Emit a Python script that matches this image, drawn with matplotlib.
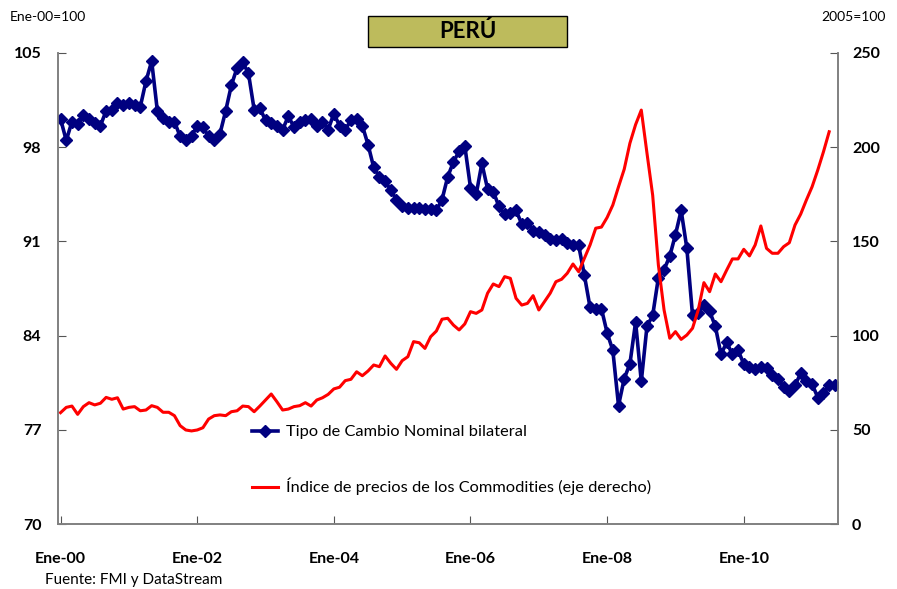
import numpy as np
import matplotlib.pyplot as plt
from matplotlib.patches import Rectangle

plt.rcParams['font.family'] = ['Lato', 'DejaVu Sans']

# tipo de cambio nominal bilateral (Ene-00=100), mensual desde Ene-00
tipo_cambio = [100.1, 98.5, 99.9, 99.7, 100.4, 100.1, 99.8, 99.6, 100.7, 100.8,
               101.3, 101.1, 101.3, 101.1, 101.0, 102.9, 104.4, 100.7, 100.2, 99.9,
               99.9, 98.8, 98.5, 98.8, 99.6, 99.5, 98.8, 98.5, 99.0, 100.7,
               102.6, 103.9, 104.3, 103.5, 100.8, 100.9, 100.0, 99.8, 99.6, 99.3,
               100.3, 99.5, 99.9, 100.0, 100.1, 99.6, 99.9, 99.3, 100.5, 99.6,
               99.3, 100.0, 100.1, 99.6, 98.2, 96.5, 95.8, 95.5, 94.8, 94.1,
               93.6, 93.5, 93.5, 93.5, 93.4, 93.4, 93.3, 94.1, 95.8, 96.9,
               97.7, 98.1, 95.0, 94.5, 96.8, 94.9, 94.7, 93.6, 93.0, 93.1,
               93.3, 92.3, 92.4, 91.8, 91.7, 91.5, 91.2, 91.1, 91.2, 90.9,
               90.7, 90.7, 88.5, 86.1, 86.0, 86.0, 84.2, 82.9, 78.8, 80.8,
               81.9, 85.0, 80.6, 84.7, 85.5, 88.3, 88.9, 89.9, 91.5, 93.3,
               90.5, 85.5, 85.7, 86.3, 85.8, 84.7, 82.6, 83.5, 82.6, 82.9,
               81.9, 81.7, 81.5, 81.7, 81.6, 81.1, 80.8, 80.2, 79.9, 80.3,
               81.2, 80.6, 80.4, 79.4, 79.7, 80.3, 80.3]

# indice de precios de los commodities (2005=100)
commodities = [59.1, 61.9, 62.6, 58.2, 62.3, 64.4, 63.2, 64.1, 67.2, 66.2,
               67.0, 61.0, 61.9, 62.3, 60.1, 60.5, 62.8, 61.9, 59.3, 59.3,
               57.5, 52.2, 49.9, 49.4, 49.9, 51.1, 55.7, 57.5, 57.9, 57.5,
               59.6, 60.1, 62.6, 62.3, 59.6, 62.6, 65.8, 69.0, 64.9, 60.5,
               61.0, 62.3, 62.8, 64.4, 62.6, 65.8, 67.0, 68.8, 71.7, 72.6,
               76.1, 76.8, 80.8, 78.7, 81.2, 84.4, 83.5, 89.2, 85.3, 82.1,
               86.7, 88.8, 96.8, 96.2, 93.2, 99.4, 102.4, 108.7, 109.2, 105.6,
               103.0, 106.2, 112.7, 111.8, 113.6, 122.5, 127.4, 126.0, 131.3, 130.4,
               119.8, 116.2, 117.1, 121.2, 113.6, 118.0, 122.5, 128.6, 129.9, 133.1,
               138.0, 133.9, 141.0, 148.1, 157.0, 157.6, 162.7, 169.3, 179.0, 188.3,
               202.1, 212.0, 219.7, 196.8, 174.5, 137.5, 113.6, 98.6, 102.1, 98.0,
               100.3, 103.9, 113.6, 128.1, 123.3, 132.7, 128.6, 134.8, 140.7, 140.7,
               145.8, 142.3, 148.1, 158.2, 146.3, 143.7, 143.7, 147.2, 149.3, 158.7,
               164.5, 172.0, 179.0, 187.9, 197.6, 208.2]

etiquetas_x = ['Ene-00', 'Ene-02', 'Ene-04', 'Ene-06', 'Ene-08', 'Ene-10']
ticks_izq = [70, 77, 84, 91, 98, 105]
ticks_der = [0, 50, 100, 150, 200, 250]

meses_tc = np.arange(len(tipo_cambio))
meses_com = np.arange(len(commodities))

fig = plt.figure(figsize=(8.97, 5.89), dpi=100)
ax1 = fig.add_axes([58 / 897, 1 - 524 / 589, 780 / 897, 471 / 589])
ax2 = ax1.twinx()

l1, = ax1.plot(meses_tc, tipo_cambio, color='#000080', lw=2.6, marker='D',
               markersize=6.3, label='Tipo de Cambio Nominal bilateral', zorder=3)
l2, = ax2.plot(meses_com, commodities, color='#FF0000', lw=2.2,
               label='Índice de precios de los Commodities (eje derecho)')

ax1.set_ylim(70, 105)
ax2.set_ylim(0, 250)
ax1.set_xlim(-0.45, 136.55)
ax1.set_yticks(ticks_izq)
ax2.set_yticks(ticks_der)
ax1.set_xticks(np.arange(0, 121, 24))
ax1.set_xticklabels(etiquetas_x)

for ax in (ax1, ax2):
    ax.spines['top'].set_visible(False)
    for s in ('left', 'right', 'bottom'):
        ax.spines[s].set_color('#808080')
        ax.spines[s].set_linewidth(1.2)

ax1.tick_params(axis='y', direction='in', length=6, pad=12, labelsize=11.5, color='#555555')
ax2.tick_params(axis='y', direction='in', length=6, pad=10, labelsize=11.5, color='#555555')
ax1.tick_params(axis='x', direction='in', length=6, pad=20, labelsize=11.5, color='#555555')
for lab in ax1.get_xticklabels() + ax1.get_yticklabels() + ax2.get_yticklabels():
    lab.set_fontweight('bold')

ax2.legend(handles=[l1, l2], loc='upper left', bbox_to_anchor=(252 / 897, 1 - 425 / 589),
           bbox_transform=fig.transFigure, frameon=False, fontsize=11.8,
           handlelength=1.6, handletextpad=0.45, labelspacing=2.35,
           borderpad=0, borderaxespad=0)

# caja del titulo
fig.patches.append(Rectangle((368 / 897, 1 - 47 / 589), 199 / 897, 31 / 589,
                             transform=fig.transFigure, facecolor='#BDBB5C',
                             edgecolor='black', lw=1.0))
fig.text(467.5 / 897, 1 - 31.5 / 589, 'PERÚ', ha='center', va='center',
         fontsize=16, fontweight='bold')

fig.text(10 / 897, 1 - 17 / 589, 'Ene-00=100', ha='left', va='center', fontsize=10)
fig.text(886 / 897, 1 - 17 / 589, '2005=100', ha='right', va='center', fontsize=10)
fig.text(45 / 897, 1 - 580 / 589, 'Fuente: FMI y DataStream', ha='left', va='center', fontsize=11)

plt.savefig('out.png', dpi=100)
